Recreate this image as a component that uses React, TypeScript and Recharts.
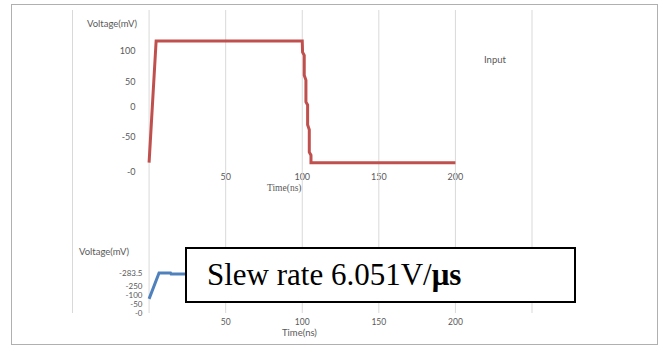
import { LineChart, Line, XAxis, YAxis, CartesianGrid } from 'recharts';

// time in ns, voltage in mV
const inputTime = [0, 4.6, 100, 100.2, 101.3, 101.3, 102.4, 102.4, 103.5, 103.5, 104.6, 104.6, 105.7, 105.7, 200];
const inputVolt = [-80, 116, 116, 98, 93, 61, 53, 18, 13, -19, -27, -63, -68, -80, -80];

const outputTime = [0, 6.5, 14, 14.4, 25];
const outputVolt = [-100, -283.5, -283.5, -276, -276];

const timeTicks = [-50, 0, 50, 100, 150, 200, 250];
const timeLabels = ['', '', '50', '100', '150', '200', ''];

const inputTicks = [100, 50, 10, -39, -95];
const inputTickLabels = ['100', '50', '0', '-50', '-0'];

const outputTicks = [-283.5, -191, -128, -64, 0];
const outputTickLabels = ['-283.5', '-250', '-100', '-50', '-0'];

const inputData = inputTime.map((t, i) => ({ t, v: inputVolt[i] }));
const outputData = outputTime.map((t, i) => ({ t, v: outputVolt[i] }));

const FONT = 'Lato, "Open Sans", sans-serif';
const TXT = '#595959';
const tickStyle = { fontSize: 9, fill: TXT, fontFamily: FONT };

const label = (i: number, arr: string[]) => arr[i] ?? '';

export default function App() {
  return (
    <div style={{ position: 'absolute', left: 0, top: 0, width: 663, height: 345, background: '#fff', fontFamily: FONT }}>
      <div style={{ position: 'absolute', left: 11, top: 4, width: 645, height: 339, border: '1.5px solid #b0b0b0' }} />

      <div style={{ position: 'absolute', left: 0, top: 0 }}>
        <LineChart width={663} height={200} data={inputData} margin={{ top: 10, right: 131, left: 72.5, bottom: 8 }}>
          <CartesianGrid horizontal={false} stroke="#d9d9d9" />
          <XAxis dataKey="t" type="number" domain={[-50, 250]} ticks={timeTicks} height={20}
            axisLine={false} tickLine={false} tickSize={0} tickMargin={2}
            tickFormatter={(v: number) => label(timeTicks.indexOf(v), timeLabels)}
            tick={tickStyle} interval={0} />
          <YAxis dataKey="v" type="number" domain={[-95, 166]} ticks={inputTicks} width={1} mirror
            axisLine={false} tickLine={false} tickSize={0} tickMargin={63}
            tickFormatter={(v: number) => label(inputTicks.indexOf(v), inputTickLabels)}
            tick={{ ...tickStyle, textAnchor: 'end' }} interval={0} />
          <Line dataKey="v" stroke="#c0504d" strokeWidth={3} dot={false} isAnimationActive={false} />
        </LineChart>
      </div>

      <div style={{ position: 'absolute', left: 0, top: 0 }}>
        <LineChart width={663} height={345} data={outputData} margin={{ top: 172, right: 131, left: 72.5, bottom: 12 }}>
          <CartesianGrid horizontal={false} stroke="#d9d9d9" />
          <XAxis dataKey="t" type="number" domain={[-50, 250]} ticks={timeTicks} height={20}
            axisLine={false} tickLine={false} tickSize={0} tickMargin={6}
            tickFormatter={(v: number) => label(timeTicks.indexOf(v), timeLabels)}
            tick={{ ...tickStyle, fontSize: 8.5 }} interval={0} />
          <YAxis dataKey="v" type="number" domain={[-1000, 0]} reversed ticks={outputTicks} width={1} mirror
            axisLine={false} tickLine={false} tickSize={0} tickMargin={70}
            tickFormatter={(v: number) => label(outputTicks.indexOf(v), outputTickLabels)}
            tick={{ ...tickStyle, fontSize: 8, textAnchor: 'end' }} interval={0} />
          <Line dataKey="v" stroke="#4f81bd" strokeWidth={3} dot={false} isAnimationActive={false} />
        </LineChart>
      </div>

      <div style={{ position: 'absolute', left: 87, top: 18, fontSize: 9.5, color: TXT }}>Voltage(mV)</div>
      <div style={{ position: 'absolute', left: 484, top: 54, fontSize: 9.5, color: TXT }}>Input</div>
      <div style={{ position: 'absolute', left: 267, top: 183, fontSize: 9.5, color: TXT, fontFamily: '"Liberation Serif", serif' }}>Time(ns)</div>
      <div style={{ position: 'absolute', left: 79, top: 246, fontSize: 9.5, color: TXT }}>Voltage(mV)</div>
      <div style={{ position: 'absolute', left: 282, top: 327, fontSize: 9.5, color: TXT }}>Time(ns)</div>

      <div style={{
        position: 'absolute', left: 185, top: 247, width: 367, height: 52, border: '2px solid #000',
        background: '#fff', display: 'flex', alignItems: 'center', paddingLeft: 20, boxSizing: 'content-box',
        fontFamily: '"Liberation Serif", "Times New Roman", serif', fontSize: 31, color: '#000',
      }}>
        <span>Slew rate 6.051V/<b>μs</b></span>
      </div>
    </div>
  );
}
